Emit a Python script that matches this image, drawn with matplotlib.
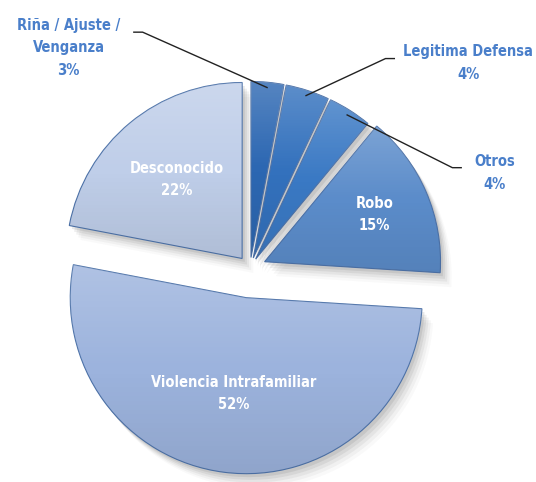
import numpy as np
import matplotlib.pyplot as plt

# causes, clockwise from 12 o'clock
labels = ['Riña / Ajuste /\nVenganza', 'Legitima Defensa', 'Otros', 'Robo',
          'Violencia Intrafamiliar', 'Desconocido']
values = [3, 4, 4, 15, 52, 22]
explode = [0.06, 0.06, 0.06, 0.09, 0.17, 0.07]
colors = ['#2c67b2', '#3371bd', '#3a79c4', '#5b8cca', '#9cb3dd', '#bfcee9']

plt.rcParams['font.family'] = 'DejaVu Sans'
plt.rcParams['font.stretch'] = 'condensed'
plt.rcParams['font.weight'] = 'bold'

fig = plt.figure(figsize=(5.36, 4.82), dpi=100)
ax = fig.add_axes([0, 0, 1, 1])

# soft drop shadow: a few faint offset copies
for k, a in enumerate([0.12, 0.09, 0.07, 0.05, 0.03]):
    off = 0.015 + 0.012 * k
    ax.pie(values, explode=explode, startangle=90, counterclock=False,
           colors=['#505050'] * len(values), center=(off, -off * 1.3),
           wedgeprops=dict(alpha=a, linewidth=0))

wedges, _ = ax.pie(values, explode=explode, startangle=90, counterclock=False,
                   colors=colors,
                   wedgeprops=dict(edgecolor='#4d72a8', linewidth=0.8))

# light-to-dark vertical shading clipped to each slice
t = np.linspace(0, 1, 64)[:, None] * np.ones((1, 4))
shade = np.zeros((64, 4, 4))
shade[..., :3] = np.where(t[..., None] < 0.5, 1.0, 0.08)
shade[..., 3] = np.where(t < 0.5, 0.20 * (0.5 - t) * 2, 0.09 * (t - 0.5) * 2)
for w in wedges:
    bb = w.get_path().get_extents()
    im = ax.imshow(shade, extent=(bb.x0, bb.x1, bb.y0, bb.y1), aspect='auto',
                   interpolation='bilinear', zorder=w.get_zorder() + 0.1)
    im.set_clip_path(w)

# inside labels for the big slices
inside = {3: 0.68, 4: 0.55, 5: 0.58}
for i, r in inside.items():
    w = wedges[i]
    mid = np.deg2rad((w.theta1 + w.theta2) / 2)
    cx, cy = w.center
    ax.text(cx + r * np.cos(mid), cy + r * np.sin(mid),
            f'{labels[i]}\n{values[i]}%', ha='center', va='center',
            color='white', fontsize=10.5, linespacing=1.6, zorder=5)

# outside labels with leader lines
outside = {0: (-1.03, 1.25, -0.66, 1.34),
           1: (1.24, 1.165, 0.82, 1.19),
           2: (1.39, 0.54, 1.20, 0.57)}
for i, (tx, ty, ex, ey) in outside.items():
    w = wedges[i]
    mid = np.deg2rad((w.theta1 + w.theta2) / 2)
    cx, cy = w.center
    px, py = cx + 0.97 * np.cos(mid), cy + 0.97 * np.sin(mid)
    step = 0.05 if ex < px else -0.05
    ax.plot([px, ex + step, ex], [py, ey, ey], color='#222222',
            linewidth=1.0, zorder=5)
    ax.text(tx, ty, f'{labels[i]}\n{values[i]}%', ha='center', va='center',
            color='#4a7fca', fontsize=10.5, linespacing=1.6, zorder=5)

ax.set_aspect('equal')
ax.set_xlim(-250 / 176, (536 - 250) / 176)
ax.set_ylim(-(482 - 268) / 176, 268 / 176)
ax.axis('off')

fig.savefig('out.png', dpi=100)
